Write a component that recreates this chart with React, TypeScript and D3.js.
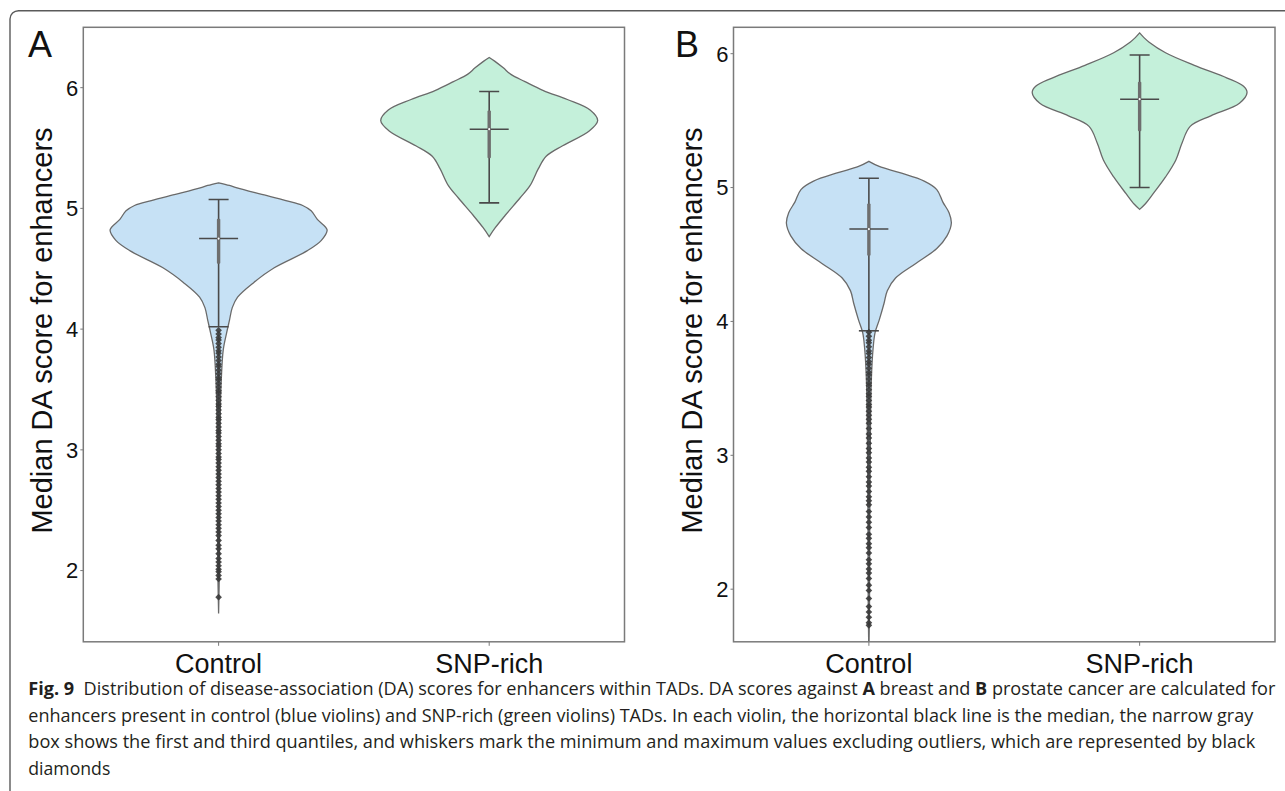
import React from 'react';
import * as d3 from 'd3';

const W = 1285;
const H = 791;

const categories = ['Control', 'SNP-rich'];
const panelLetters = ['A', 'B'];
const yTicks = [2, 3, 4, 5, 6];
const yDomainA: [number, number] = [1.41, 6.5];
const yDomainB: [number, number] = [1.607, 6.197];

// violin outlines: [score, relative half width]
const controlViolinA: [number, number][] = [
  [5.212, 0], [5.19, 0.1], [5.17, 0.17], [5.12, 0.38], [5.065, 0.62], [5.024, 0.775],
  [4.98, 0.853], [4.909, 0.91], [4.822, 1.0], [4.735, 0.947], [4.648, 0.815],
  [4.508, 0.513], [4.387, 0.325], [4.265, 0.175], [4.178, 0.126], [4.073, 0.1],
  [3.969, 0.074], [3.83, 0.043], [3.585, 0.025], [3.237, 0.014], [2.6, 0.009],
  [2.0, 0.007], [1.645, 0],
];
const snpViolinA: [number, number][] = [
  [6.25, 0], [6.22, 0.05], [6.164, 0.13], [6.11, 0.2], [6.05, 0.33], [5.976, 0.5],
  [5.902, 0.72], [5.815, 0.93], [5.728, 1.0], [5.641, 0.922], [5.519, 0.677],
  [5.432, 0.525], [5.327, 0.452], [5.188, 0.376], [5.084, 0.282], [4.945, 0.15],
  [4.84, 0.056], [4.767, 0],
];
const controlViolinB: [number, number][] = [
  [5.196, 0], [5.158, 0.095], [5.111, 0.285], [5.048, 0.51], [4.985, 0.626],
  [4.891, 0.682], [4.812, 0.739], [4.733, 0.76], [4.639, 0.72], [4.545, 0.626],
  [4.435, 0.436], [4.324, 0.246], [4.23, 0.17], [4.136, 0.14], [4.01, 0.095],
  [3.916, 0.057], [3.79, 0.038], [3.57, 0.023], [3.24, 0.015], [2.5, 0.008],
  [1.9, 0.006], [1.5, 0],
];
const snpViolinB: [number, number][] = [
  [6.155, 0], [6.12, 0.04], [6.086, 0.088], [6.007, 0.239], [5.913, 0.504],
  [5.818, 0.807], [5.756, 0.958], [5.709, 0.99], [5.63, 0.92], [5.536, 0.656],
  [5.457, 0.466], [5.331, 0.39], [5.206, 0.334], [5.079, 0.239], [4.954, 0.125],
  [4.875, 0.049], [4.837, 0],
];

// box statistics per category (Control, SNP-rich)
const medianA = [4.75, 5.656];
const q1A = [4.541, 5.416];
const q3A = [4.914, 5.81];
const whiskerLowA = [4.02, 5.046];
const whiskerHighA = [5.074, 5.968];

const medianB = [4.69, 5.66];
const q1B = [4.49, 5.42];
const q3B = [4.88, 5.79];
const whiskerLowB = [3.93, 5.0];
const whiskerHighB = [5.07, 5.99];

// outliers (only the control group has them)
const outliersA = [
  3.99, 3.96, 3.93, 3.91, 3.88, 3.85, 3.82, 3.8, 3.77, 3.74, 3.71, 3.69, 3.66, 3.63,
  3.6, 3.58, 3.55, 3.52, 3.49, 3.47, 3.44, 3.41, 3.38, 3.36, 3.33, 3.3, 3.27, 3.25,
  3.22, 3.19, 3.16, 3.14, 3.11, 3.08, 3.05, 3.03, 3.0, 2.97, 2.94, 2.92, 2.89, 2.86,
  2.83, 2.8, 2.77, 2.74, 2.71, 2.68, 2.65, 2.62, 2.59, 2.56, 2.53, 2.5, 2.47, 2.44,
  2.41, 2.38, 2.35, 2.32, 2.29, 2.25, 2.21, 2.18, 2.14, 2.1, 2.07, 2.04, 2.01, 1.99,
  1.96, 1.93, 1.78,
];
const outliersB = [
  3.92, 3.89, 3.86, 3.84, 3.81, 3.78, 3.76, 3.73, 3.7, 3.68, 3.65, 3.62, 3.6, 3.57,
  3.54, 3.52, 3.49, 3.46, 3.44, 3.41, 3.38, 3.36, 3.33, 3.3, 3.27, 3.24, 3.2, 3.16,
  3.13, 3.09, 3.05, 3.02, 2.98, 2.95, 2.91, 2.88, 2.84, 2.8, 2.77, 2.73, 2.69, 2.66,
  2.63, 2.58, 2.54, 2.5, 2.46, 2.41, 2.38, 2.34, 2.31, 2.27, 2.22, 2.19, 2.15, 2.12,
  2.08, 2.03, 1.99, 1.93, 1.87, 1.83, 1.79, 1.75, 1.73,
];

const violinFills = ['#c6e1f5', '#c4f0da'];

const captionLines: [string, boolean][][] = [
  [['Fig. 9', true], ['  Distribution of disease-association (DA) scores for enhancers within TADs. DA scores against ', false], ['A', true], [' breast and ', false], ['B', true], [' prostate cancer are calculated for', false]],
  [['enhancers present in control (blue violins) and SNP-rich (green violins) TADs. In each violin, the horizontal black line is the median, the narrow gray', false]],
  [['box shows the first and third quantiles, and whiskers mark the minimum and maximum values excluding outliers, which are represented by black', false]],
  [['diamonds', false]],
];
const captionWidths = [1247, 1225, 1227, 82];

const sans = '"Liberation Sans", Arial, Helvetica, sans-serif';

interface PanelProps {
  idx: number;
  left: number;
  right: number;
  domain: [number, number];
  violins: [number, number][][];
  median: number[];
  q1: number[];
  q3: number[];
  wLow: number[];
  wHigh: number[];
  outliers: number[];
}

const top = 27.3;
const bottom = 641.8;

const Panel: React.FC<PanelProps> = ({ idx, left, right, domain, violins, median, q1, q3, wLow, wHigh, outliers }) => {
  const x = d3.scalePoint<string>().domain(categories).range([left, right]).padding(0.5);
  const y = d3.scaleLinear().domain(domain).range([bottom, top]);
  const w = d3.scaleLinear().domain([0, 1]).range([0, 108.5]);
  const clipId = `clip-${idx}`;
  const diamond = d3.symbol(d3.symbolSquare, 22)();

  return (
    <g>
      <defs>
        <clipPath id={clipId}>
          <rect x={left} y={top} width={right - left} height={bottom - top} />
        </clipPath>
      </defs>
      <g clipPath={`url(#${clipId})`}>
        {violins.map((v, i) => {
          const cx = x(categories[i])!;
          const area = d3.area<[number, number]>()
            .y(d => y(d[0]))
            .x0(d => cx - w(d[1]))
            .x1(d => cx + w(d[1]))
            .curve(d3.curveCatmullRom.alpha(0.5));
          return (
            <path key={i} d={area(v) || ''} fill={violinFills[i]} stroke="#6a6a6a" strokeWidth={1.3} />
          );
        })}
        {categories.map((c, i) => {
          const cx = x(c)!;
          return (
            <g key={c}>
              <line x1={cx} x2={cx} y1={y(wHigh[i])} y2={y(wLow[i])} stroke="#4a4a4a" strokeWidth={1.6} />
              <line x1={cx - 10} x2={cx + 10} y1={y(wHigh[i])} y2={y(wHigh[i])} stroke="#4a4a4a" strokeWidth={1.6} />
              <line x1={cx - 10} x2={cx + 10} y1={y(wLow[i])} y2={y(wLow[i])} stroke="#4a4a4a" strokeWidth={1.6} />
              <rect x={cx - 1.7} width={3.4} y={y(q3[i])} height={y(q1[i]) - y(q3[i])} fill="#6e6e6e" rx={1} />
              <line x1={cx - 19.5} x2={cx + 19.5} y1={y(median[i])} y2={y(median[i])} stroke="#4a4a4a" strokeWidth={1.6} />
              <circle cx={cx} cy={y(median[i])} r={1.1} fill="#ffffff" />
            </g>
          );
        })}
        {outliers.map((o, j) => (
          <path key={j} d={diamond || ''} transform={`translate(${x(categories[0])},${y(o)}) rotate(45)`}
            fill="#3a3a3a" fillOpacity={0.9} />
        ))}
      </g>
      <rect x={left} y={top} width={right - left} height={bottom - top} fill="none" stroke="#7a7a7a" strokeWidth={1.5} />
      {yTicks.map(t => (
        <g key={t}>
          <line x1={left - 3} x2={left} y1={y(t)} y2={y(t)} stroke="#7a7a7a" strokeWidth={1} />
          <text x={left - 5} y={y(t)} dy="0.36em" textAnchor="end" fontSize={22} fontFamily={sans} fill="#111">{t}</text>
        </g>
      ))}
      {categories.map(c => (
        <g key={c}>
          <line x1={x(c)} x2={x(c)} y1={bottom} y2={bottom + 4} stroke="#7a7a7a" strokeWidth={1} />
          <text x={x(c)} y={bottom + 31} textAnchor="middle" fontSize={27} fontFamily={sans} fill="#111">{c}</text>
        </g>
      ))}
      <text transform={`translate(${left - 31.3},330.5) rotate(-90)`} textAnchor="middle" fontSize={29} fontFamily={sans} fill="#111">
        Median DA score for enhancers
      </text>
    </g>
  );
};

export default function App() {
  return (
    <svg width={W} height={H} style={{ position: 'absolute', left: 0, top: 0, background: '#fff' }}>
      <path d={`M10,${H} L10,19 A8.5,8.5 0 0 1 18.5,10.7 L${W},10.7`} fill="none" stroke="#5a5a5a" strokeWidth={1.4} />
      <text x={28} y={57.3} fontSize={36} fontFamily={sans} fill="#111">{panelLetters[0]}</text>
      <text x={675} y={57.3} fontSize={36} fontFamily={sans} fill="#111">{panelLetters[1]}</text>
      <Panel idx={0} left={83.3} right={624.5} domain={yDomainA}
        violins={[controlViolinA, snpViolinA]}
        median={medianA} q1={q1A} q3={q3A} wLow={whiskerLowA} wHigh={whiskerHighA} outliers={outliersA} />
      <Panel idx={1} left={733.5} right={1275} domain={yDomainB}
        violins={[controlViolinB, snpViolinB]}
        median={medianB} q1={q1B} q3={q3B} wLow={whiskerLowB} wHigh={whiskerHighB} outliers={outliersB} />
      {captionLines.map((line, i) => (
        <text key={i} x={28.3} y={695 + i * 26.6} fontSize={17.5} fontFamily='"Open Sans", "Noto Sans", sans-serif'
          fill="#231f20" textLength={captionWidths[i]} lengthAdjust="spacingAndGlyphs" xmlSpace="preserve">
          {line.map(([s, b], k) => (
            <tspan key={k} fontWeight={b ? 700 : 400}>{s}</tspan>
          ))}
        </text>
      ))}
    </svg>
  );
}
